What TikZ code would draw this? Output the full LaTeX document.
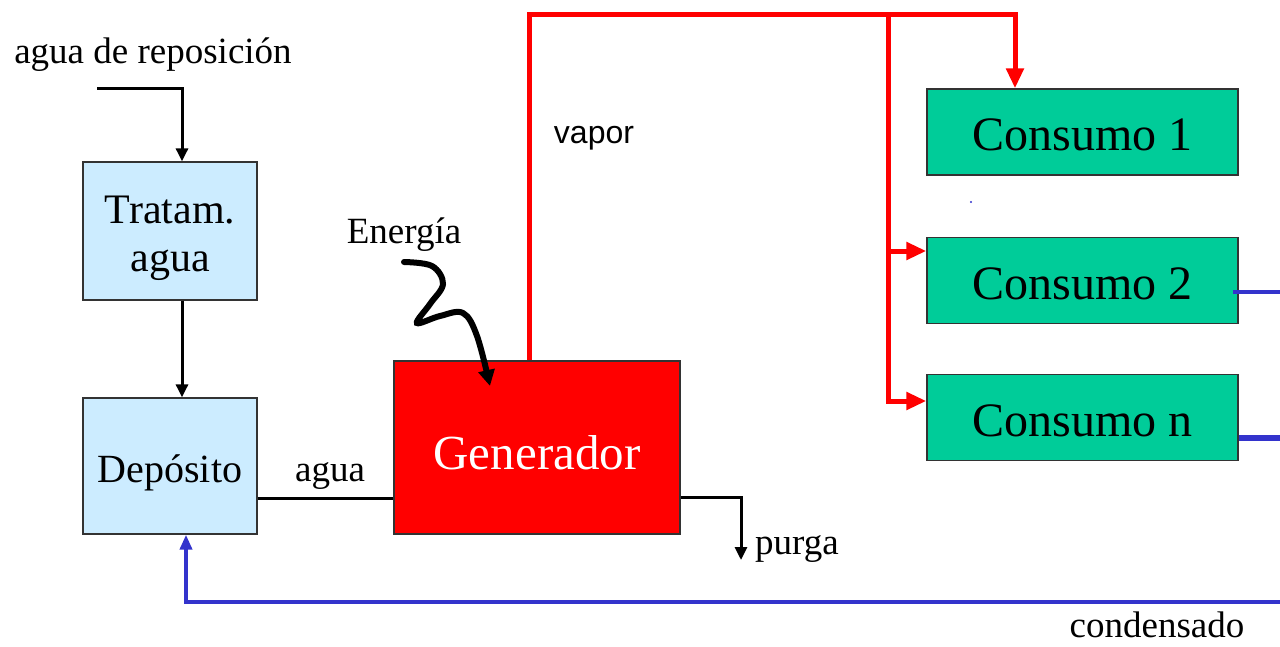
\documentclass[tikz,border=0pt]{standalone}
\usepackage{fontspec}
\setmainfont{Liberation Serif}
\newfontfamily\vaporfont{Liberation Sans}
\usetikzlibrary{arrows.meta}

\definecolor{aguaazul}{HTML}{CCECFF}
\definecolor{generojo}{HTML}{FF0000}
\definecolor{consverde}{HTML}{00CC99}
\definecolor{condazul}{HTML}{3333CC}

% lower a text without changing its box
\newcommand{\bajar}[2]{\raisebox{-#1}[\height][\depth]{#2}}

\begin{document}
\begin{tikzpicture}[x=1pt,y=-1pt,
    caja/.style={draw=black!80, line width=1.3pt, inner sep=0pt},
    flecha/.style={line width=3pt, -{Triangle[length=13pt,width=12pt]}},
    vaporlinea/.style={draw=generojo, line width=5pt, -{Triangle[length=20pt,width=17pt]}},
    condlinea/.style={draw=condazul, line width=4pt},
    etiqueta/.style={font=\fontsize{37}{40}\selectfont, inner sep=0pt}]

    % Page size
    \useasboundingbox (0,0) rectangle (1280,646);

    % Boxes
    \node[caja, fill=aguaazul, minimum width=174pt, minimum height=138pt, align=center,
          font=\fontsize{42}{48}\selectfont] (trat) at (170,231) {\bajar{7pt}{Tratam.}\\\bajar{7pt}{agua}};
    \node[caja, fill=aguaazul, minimum width=174pt, minimum height=136pt,
          font=\fontsize{40}{48}\selectfont] (dep) at (170,466) {\bajar{7pt}{Depósito}};
    \node[caja, fill=generojo, minimum width=286pt, minimum height=173pt, text=white,
          font=\fontsize{49}{54}\selectfont] (gen) at (537,447.5) {\bajar{5pt}{Generador}};
    \node[caja, fill=consverde, minimum width=311pt, minimum height=86pt,
          font=\fontsize{48}{52}\selectfont] (c1) at (1082.5,132) {\bajar{3pt}{Consumo 1}};
    \node[caja, fill=consverde, minimum width=311pt, minimum height=86pt,
          font=\fontsize{48}{52}\selectfont] (c2) at (1082.5,280.5) {\bajar{3pt}{Consumo 2}};
    \node[caja, fill=consverde, minimum width=311pt, minimum height=86pt,
          font=\fontsize{48}{52}\selectfont] (cn) at (1082.5,417.5) {\bajar{3pt}{Consumo n}};

    % Labels
    \node[etiqueta] (lrepo) at (153,55) {agua de reposición};
    \node[etiqueta] (lener) at (404,235) {Energía};
    \node[inner sep=0pt, font=\vaporfont\fontsize{32}{34}\selectfont] (lvapor) at (594,138) {vapor};
    \node[etiqueta] (lagua) at (330,476) {agua};
    \node[etiqueta, anchor=west] (lpurga) at (755,549) {purga};
    \node[etiqueta] (lcond) at (1157,625) {condensado};

    % Free ends
    \coordinate (repin) at (97,88);
    \coordinate (purgafin) at (741,560);
    \coordinate (cruce) at (888,14);
    \coordinate (c2sal) at (1281,292);
    \coordinate (cnsal) at (1281,438);
    \coordinate (condin) at (1281,602);

    % Water line
    \draw[flecha] (repin) -| ([xshift=12pt]trat.north);
    \draw[flecha] ([xshift=12pt]trat.south) -- ([xshift=12pt]dep.north);
    \draw[line width=3pt] ([yshift=-32pt]dep.east) -- ([yshift=-32pt]dep.east -| gen.west);
    \draw[flecha] ([yshift=-50pt]gen.east) -| (purgafin);

    % Energy input
    \draw[line width=6pt, line cap=round, -{Triangle[length=16pt,width=16pt]}]
        plot[smooth, tension=0.6] coordinates {(404,262) (432,266) (443,284) (430,304)
        (417,323) (440,316) (463,313) (477,336) (490,386)};

    % Steam
    \draw[vaporlinea] ([xshift=-8pt]gen.north) |- (cruce) -| ([xshift=-67.5pt]c1.north);
    \draw[vaporlinea] (cruce) |- ([yshift=29.5pt]c2.west);
    \draw[vaporlinea] (cruce) |- ([yshift=16.5pt]cn.west);

    % Condensate
    \draw[condlinea] ([xshift=-6pt,yshift=-11.5pt]c2.east) -- (c2sal);
    \draw[condlinea, line width=6pt] ([yshift=-20.5pt]cn.east) -- (cnsal);
    \draw[condlinea, -{Triangle[length=15pt,width=12pt]}] (condin) -| ([xshift=16pt]dep.south);
    \fill[condazul] (971,202) circle (1.2pt);
\end{tikzpicture}
\end{document}
